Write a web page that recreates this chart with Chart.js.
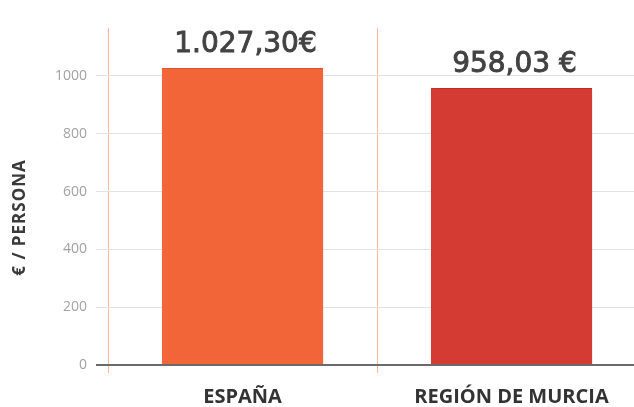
<!DOCTYPE html>
<html>
<head>
<meta charset="utf-8">
<script src="https://cdn.jsdelivr.net/npm/chart.js@4"></script>
<style>
  html, body { margin: 0; padding: 0; background: #fff; overflow: hidden; }
  #wrap { width: 634px; height: 407px; overflow: hidden; }
  canvas { display: block; }
</style>
</head>
<body>
<div id="wrap"><canvas id="canvas" width="660" height="407"></canvas></div>
<script>
// datos
var categorias = ['ESPAÑA', 'REGIÓN DE MURCIA'];
var gasto = [1027.30, 958.03];
var etiquetas = ['1.027,30€', '958,03 €'];
var colores = ['#f26539', '#d33b33'];
var bordes = ['#ea5a2c', '#c9322b'];
var marcasY = [0, 200, 400, 600, 800, 1000];
var tituloY = '€ / PERSONA';

// sombra a la derecha de las barras
var sombra = {
  id: 'sombra',
  beforeDatasetsDraw: function (chart) {
    var ctx = chart.ctx;
    ctx.save();
    ctx.shadowColor = 'rgba(0,0,0,0.28)';
    ctx.shadowBlur = 7;
    ctx.shadowOffsetX = 5;
    ctx.shadowOffsetY = 2;
  },
  afterDatasetsDraw: function (chart) {
    chart.ctx.restore();
  }
};

// valores encima de las barras + titulo del eje
var textos = {
  id: 'textos',
  afterDatasetsDraw: function (chart) {
    var ctx = chart.ctx;
    var meta = chart.getDatasetMeta(0);
    ctx.save();
    ctx.font = '28px "DejaVu Sans"';
    ctx.fillStyle = '#424242';
    ctx.strokeStyle = '#424242';
    ctx.lineWidth = 0.9;
    ctx.textAlign = 'center';
    ctx.textBaseline = 'middle';
    meta.data.forEach(function (bar, i) {
      ctx.fillText(etiquetas[i], bar.x + 3, bar.y - 23);
      ctx.strokeText(etiquetas[i], bar.x + 3, bar.y - 23);
    });
    ctx.restore();

    var area = chart.chartArea;
    ctx.save();
    ctx.translate(20, (area.top + area.bottom) / 2 + 21);
    ctx.rotate(-Math.PI / 2);
    ctx.font = 'bold 17px "Open Sans"';
    ctx.letterSpacing = '1px';
    ctx.fillStyle = '#3a3a3a';
    ctx.textAlign = 'center';
    ctx.textBaseline = 'middle';
    ctx.fillText(tituloY, 0, 0);
    ctx.restore();
  }
};

const data = {
  labels: categorias,
  datasets: [{
    data: gasto,
    backgroundColor: colores,
    borderColor: bordes,
    borderWidth: { top: 1, left: 0, right: 0, bottom: 0 },
    barPercentage: 0.6,
    categoryPercentage: 1.0
  }]
};

const config = {
  type: 'bar',
  data: data,
  plugins: [sombra, textos],
  options: {
    responsive: false,
    animation: false,
    devicePixelRatio: 1,
    layout: { padding: { top: 28, right: 14, left: 0, bottom: 0 } },
    plugins: { legend: { display: false }, tooltip: { enabled: false } },
    scales: {
      x: {
        offset: true,
        border: { display: false },
        grid: {
          offset: true,
          color: '#f9b9a0',
          lineWidth: 1,
          tickLength: 8
        },
        ticks: {
          padding: 12,
          color: '#333333',
          font: { family: '"Open Sans"', size: 20, weight: 'bold' }
        },
        afterFit: function (scale) { scale.height = 42; }
      },
      y: {
        min: 0,
        max: 1166,
        border: { display: false },
        afterBuildTicks: function (scale) {
          scale.ticks = marcasY.map(function (v) { return { value: v }; });
        },
        afterFit: function (scale) { scale.width = 108; },
        grid: {
          tickLength: 12,
          color: function (c) { return c.tick && c.tick.value === 0 ? '#6a6a6a' : '#e2e2e2'; },
          lineWidth: function (c) { return c.tick && c.tick.value === 0 ? 2 : 1; }
        },
        ticks: {
          padding: 9,
          color: '#a3a3a3',
          font: { family: '"Open Sans"', size: 14 },
          callback: function (v) { return String(v); }
        }
      }
    }
  }
};

const canvas = document.getElementById('canvas');
const chart = new Chart(canvas, config);
</script>
</body>
</html>
